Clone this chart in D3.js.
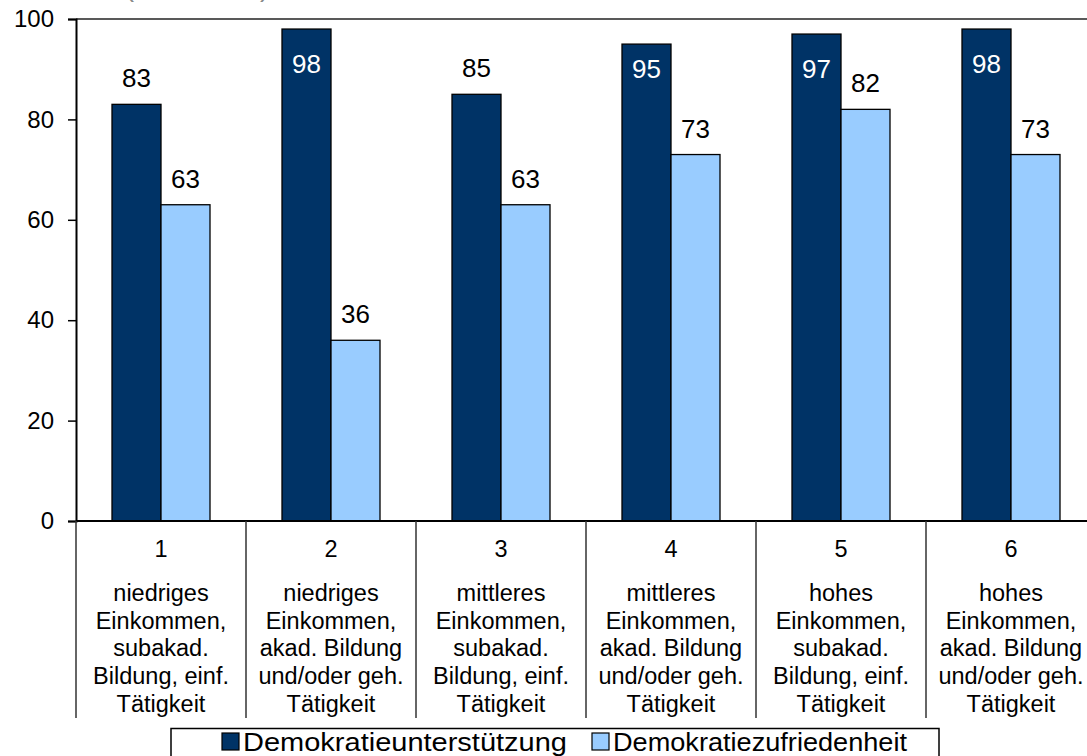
<!DOCTYPE html>
<html>
<head>
<meta charset="utf-8">
<script src="https://cdn.jsdelivr.net/npm/d3@7"></script>
<style>
  html, body { margin: 0; padding: 0; background: #fff; }
  svg { display: block; font-family: "Liberation Sans", Arial, sans-serif; }
</style>
</head>
<body>
<svg id="chart" width="1087" height="756"></svg>
<script>
const categories = ["1", "2", "3", "4", "5", "6"];
const categoryLabels = [
  ["niedriges", "Einkommen,", "subakad.", "Bildung, einf.", "Tätigkeit"],
  ["niedriges", "Einkommen,", "akad. Bildung", "und/oder geh.", "Tätigkeit"],
  ["mittleres", "Einkommen,", "subakad.", "Bildung, einf.", "Tätigkeit"],
  ["mittleres", "Einkommen,", "akad. Bildung", "und/oder geh.", "Tätigkeit"],
  ["hohes", "Einkommen,", "subakad.", "Bildung, einf.", "Tätigkeit"],
  ["hohes", "Einkommen,", "akad. Bildung", "und/oder geh.", "Tätigkeit"]
];
const seriesNames = ["Demokratieunterstützung", "Demokratiezufriedenheit"];
const unterstuetzung = [83, 98, 85, 95, 97, 98];
const zufriedenheit = [63, 36, 63, 73, 82, 73];
const yTicks = [0, 20, 40, 60, 80, 100];
const subtitle = "(in Prozent)";

(function () {
const colors = ["#003366", "#99CCFF"];
const series = [unterstuetzung, zufriedenheit];

const svg = d3.select("#chart");
const pLeft = 76, pRight = 1096, pTop = 19, pBottom = 521;

const x = d3.scaleBand().domain(categories).range([pLeft, pRight]).paddingInner(0).paddingOuter(0);
const barW = 49;
const x1 = d3.scaleBand().domain([0, 1]).range([0, barW * 2]);
const y = d3.scaleLinear().domain([0, 100]).range([pBottom, pTop]);

// subtitle, clipped by the top edge as in the original
svg.append("text").attr("x", 197).attr("y", -4).attr("text-anchor", "middle")
  .attr("font-size", 28).attr("fill", "#888").text(subtitle);

// top border of plot area
svg.append("line").attr("x1", pLeft).attr("x2", 1087).attr("y1", pTop).attr("y2", pTop)
  .attr("stroke", "#222").attr("stroke-width", 1.5);

// bars
categories.forEach((c, i) => {
  const gx = x(c) + (x.bandwidth() - barW * 2) / 2;
  series.forEach((s, si) => {
    const v = s[i];
    svg.append("rect")
      .attr("x", gx + x1(si)).attr("y", y(v))
      .attr("width", x1.bandwidth()).attr("height", y(0) - y(v))
      .attr("fill", colors[si]).attr("stroke", "#000").attr("stroke-width", 1.3);
  });
});

// value labels
categories.forEach((c, i) => {
  const gx = x(c) + (x.bandwidth() - barW * 2) / 2;
  series.forEach((s, si) => {
    const v = s[i];
    const cx = gx + x1(si) + x1.bandwidth() / 2;
    const inside = si === 0 && v > 90;
    const by = inside ? Math.min(y(v) + 44, y(82) - 31) : y(v) - 17;
    svg.append("text").attr("x", cx).attr("y", by).attr("text-anchor", "middle")
      .attr("font-size", 26).attr("fill", inside ? "#fff" : "#000").text(v);
  });
});

// y axis
const yAxis = d3.axisLeft(y).tickValues(yTicks).tickSize(8).tickPadding(14);
const ya = svg.append("g").attr("transform", `translate(${pLeft},0)`).call(yAxis);
ya.select(".domain").attr("stroke", "#000").attr("stroke-width", 2);
ya.selectAll(".tick line").attr("stroke", "#000").attr("stroke-width", 1.5);
ya.selectAll(".tick text").attr("font-size", 24).attr("fill", "#000")
  .attr("font-family", "Liberation Sans, Arial, sans-serif");

// x axis baseline
svg.append("line").attr("x1", pLeft).attr("x2", 1087).attr("y1", pBottom).attr("y2", pBottom)
  .attr("stroke", "#000").attr("stroke-width", 2);

// category separators
const seps = categories.map(c => x(c)).concat([pRight]);
svg.selectAll("line.sep").data(seps).enter().append("line").attr("class", "sep")
  .attr("x1", d => d).attr("x2", d => d).attr("y1", pBottom).attr("y2", 718)
  .attr("stroke", "#333").attr("stroke-width", 1.5);

// category labels
categories.forEach((c, i) => {
  const cx = x(c) + x.bandwidth() / 2;
  svg.append("text").attr("x", cx).attr("y", 557).attr("text-anchor", "middle")
    .attr("font-size", 23.5).attr("fill", "#000").text(c);
  categoryLabels[i].forEach((ln, li) => {
    svg.append("text").attr("x", cx).attr("y", 601 + li * 27.7).attr("text-anchor", "middle")
      .attr("font-size", 23.5).attr("fill", "#000").text(ln);
  });
});

// legend
svg.append("rect").attr("x", 171).attr("y", 728.5).attr("width", 768).attr("height", 40)
  .attr("fill", "#fff").attr("stroke", "#000").attr("stroke-width", 1.5);
const legX = [222, 592];
const legW = [324, 294];
seriesNames.forEach((n, i) => {
  svg.append("rect").attr("x", legX[i]).attr("y", 733).attr("width", 17).attr("height", 17)
    .attr("fill", colors[i]).attr("stroke", "#000").attr("stroke-width", 1.2);
  svg.append("text").attr("x", legX[i] + 21).attr("y", 751).attr("font-size", 26)
    .attr("textLength", legW[i]).attr("lengthAdjust", "spacingAndGlyphs")
    .attr("fill", "#000").text(n);
});
})();
</script>
</body>
</html>
